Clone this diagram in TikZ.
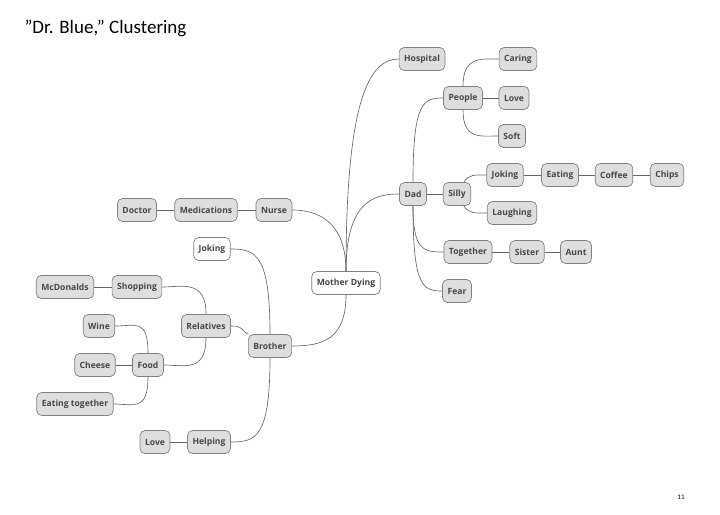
\documentclass[tikz,border=0pt]{standalone}
\usepackage{fontspec}
\setmainfont{Carlito}
\newfontfamily\boxfont{Open Sans}
\begin{document}
\begin{tikzpicture}[x=1pt,y=-1pt,
  box/.style={draw=black!50, fill=black!13, rounded corners=5pt, line width=0.7pt,
    font=\boxfont\bfseries\fontsize{8.6}{10}\selectfont, text=black!72,
    minimum height=23pt, inner xsep=5pt, inner ysep=0pt},
  wbox/.style={box, fill=white},
  edge/.style={draw=black!60, line width=0.65pt}]
\useasboundingbox (0,0) rectangle (720,514);
\node[anchor=base west, font=\fontsize{19}{22}\selectfont] (title) at (21,33) {”Dr. Blue,” Clustering};
\node[font=\fontsize{7}{8}\selectfont] (pg) at (681,497) {11};

\node[wbox] (M) at (346,283) {Mother Dying};
\node[box] (Hospital) at (422,59) {Hospital};
\node[box] (Dad) at (413,194) {Dad};
\node[box] (People) at (463,98) {People};
\node[box] (Caring) at (518,59) {Caring};
\node[box] (Love) at (514,98) {Love};
\node[box] (Soft) at (512,136) {Soft};
\node[box] (Silly) at (457,194) {Silly};
\node[box] (Joking) at (505,175) {Joking};
\node[box] (Eating) at (560,175) {Eating};
\node[box] (Coffee) at (614,175) {Coffee};
\node[box] (Chips) at (667,175) {Chips};
\node[box] (Laughing) at (512,213) {Laughing};
\node[box] (Together) at (468,252) {Together};
\node[box] (Sister) at (527,252) {Sister};
\node[box] (Aunt) at (576,252) {Aunt};
\node[box] (Fear) at (457,291) {Fear};
\node[box] (Nurse) at (274,210) {Nurse};
\node[box] (Med) at (206,210) {Medications};
\node[box] (Doctor) at (137,210) {Doctor};
\node[wbox] (LJoking) at (212,249) {Joking};
\node[box] (Brother) at (270,346) {Brother};
\node[box] (Relatives) at (206,326) {Relatives};
\node[box] (Shopping) at (137,287) {Shopping};
\node[box] (McD) at (65,287) {McDonalds};
\node[box] (Food) at (148,365) {Food};
\node[box] (Wine) at (99,326) {Wine};
\node[box] (Cheese) at (95,365) {Cheese};
\node[box] (ET) at (75,404) {Eating together};
\node[box] (Helping) at (209,442) {Helping};
\node[box] (LLove) at (155,442) {Love};

\draw[edge] (M.north) .. controls +(0,-170) and +(-30,0) .. (Hospital.west);
\draw[edge] (M.north) .. controls +(0,-70) and +(-25,0) .. (Dad.west);
\draw[edge] (M.north) .. controls +(0,-50) and +(25,0) .. (Nurse.east);
\draw[edge] (M.south) .. controls +(0,45) and +(30,0) .. (Brother.east);
\draw[edge] (Dad.north) .. controls +(0,-80) and +(-20,0) .. (People.west);
\draw[edge] (Dad) -- (Silly);
\draw[edge] (Dad.south) .. controls +(0,45) and +(-20,0) .. (Together.west);
\draw[edge] (Dad.south) .. controls +(0,80) and +(-20,0) .. (Fear.west);
\draw[edge] (People.north) .. controls +(0,-30) and +(-18,0) .. (Caring.west);
\draw[edge] (People) -- (Love);
\draw[edge] (People.south) .. controls +(0,30) and +(-18,0) .. (Soft.west);
\draw[edge] (Silly.60) .. controls +(5,-8) and +(-12,0) .. (Joking.west);
\draw[edge] (Silly.-60) .. controls +(5,8) and +(-12,0) .. (Laughing.west);
\draw[edge] (Joking) -- (Eating);
\draw[edge] (Eating) -- (Coffee);
\draw[edge] (Coffee) -- (Chips);
\draw[edge] (Together) -- (Sister);
\draw[edge] (Sister) -- (Aunt);
\draw[edge] (Nurse) -- (Med);
\draw[edge] (Med) -- (Doctor);
\draw[edge] (Brother.north) .. controls +(0,-80) and +(25,0) .. (LJoking.east);
\draw[edge] (Relatives.east) .. controls +(12,0) and +(-8,-5) .. (Brother.north west);
\draw[edge] (Brother.south) .. controls +(0,80) and +(25,0) .. (Helping.east);
\draw[edge] (Relatives.north) .. controls +(0,-35) and +(20,0) .. (Shopping.east);
\draw[edge] (Relatives.south) .. controls +(0,35) and +(20,0) .. (Food.east);
\draw[edge] (Shopping) -- (McD);
\draw[edge] (Food.north) .. controls +(0,-35) and +(20,0) .. (Wine.east);
\draw[edge] (Food) -- (Cheese);
\draw[edge] (Food.south) .. controls +(0,35) and +(20,0) .. (ET.east);
\draw[edge] (Helping) -- (LLove);
\end{tikzpicture}
\end{document}
